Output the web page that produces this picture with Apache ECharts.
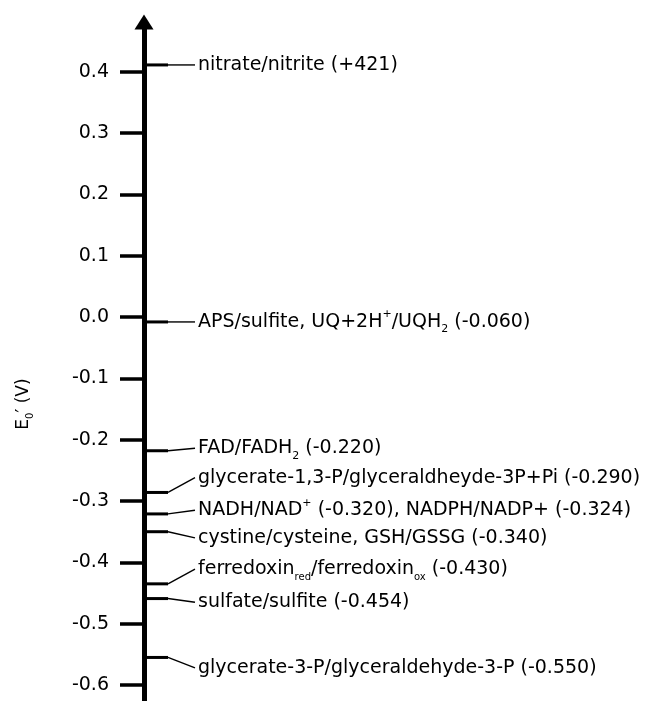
<!DOCTYPE html>
<html>
<head>
<meta charset="utf-8">
<script src="https://cdn.jsdelivr.net/npm/echarts@6/dist/echarts.min.js"></script>
<style>
html,body{margin:0;padding:0;background:#fff;}
#chart{width:651px;height:701px;}
</style>
</head>
<body>
<div id="chart"></div>
<script>
// ---- data ----
const couples = [
  'nitrate/nitrite (+421)',
  'APS/sulfite, UQ+2H{sup|+}/UQH{sub|2} (-0.060)',
  'FAD/FADH{sub|2} (-0.220)',
  'glycerate-1,3-P/glyceraldheyde-3P+Pi (-0.290)',
  'NADH/NAD{sup|+} (-0.320), NADPH/NADP+ (-0.324)',
  'cystine/cysteine, GSH/GSSG (-0.340)',
  'ferredoxin{sub2|red}/ferredoxin{sub2|ox} (-0.430)',
  'sulfate/sulfite (-0.454)',
  'glycerate-3-P/glyceraldehyde-3-P (-0.550)'
];
const potentials = [0.411, -0.008, -0.218, -0.286, -0.321, -0.350, -0.435, -0.459, -0.555];
const tickValues = [-0.6, -0.5, -0.4, -0.3, -0.2, -0.1, 0.0, 0.1, 0.2, 0.3, 0.4];
const axisTitle = 'E{s|0}\u2032 (V)';

// ---- layout (label anchor positions on the potential scale) ----
const labelAnchors = [0.411, -0.008, -0.214, -0.262, -0.315, -0.360, -0.411, -0.465, -0.572];

const FONT = 'DejaVu Sans';
const chart = echarts.init(document.getElementById('chart'), null, {renderer: 'canvas'});

const richStyles = {
  sub: {fontSize: 11, lineHeight: 8, verticalAlign: 'bottom', fontFamily: FONT, fill: '#000'},
  sub2: {fontSize: 10, lineHeight: 4, verticalAlign: 'bottom', fontFamily: FONT, fill: '#000'},
  sup: {fontSize: 11, lineHeight: 18, verticalAlign: 'top', fontFamily: FONT, fill: '#000'}
};

chart.setOption({
  animation: false,
  backgroundColor: '#fff',
  grid: {left: 144, right: 10, top: 22, bottom: 0, containLabel: false},
  xAxis: {type: 'value', min: 0, max: 1, show: false},
  yAxis: {
    type: 'value',
    min: -0.626,
    max: 0.481,
    position: 'left',
    axisLine: {
      show: true,
      onZero: false,
      symbol: ['none', 'triangle'],
      symbolSize: [19, 15],
      lineStyle: {color: '#000', width: 5}
    },
    axisTick: {show: true, length: 24, customValues: tickValues, lineStyle: {color: '#000', width: 3.5}},
    axisLabel: {
      show: true,
      customValues: tickValues,
      formatter: v => v.toFixed(1),
      color: '#000',
      fontSize: 19,
      fontFamily: FONT,
      margin: 35
    },
    splitLine: {show: false}
  },
  graphic: [{
    type: 'text',
    x: 24, y: 404,
    rotation: Math.PI / 2,
    style: {
      text: axisTitle,
      fontSize: 17,
      fontFamily: FONT,
      fill: '#000',
      align: 'center',
      verticalAlign: 'middle',
      lineHeight: 22,
      rich: {s: {fontSize: 10, lineHeight: 6, verticalAlign: 'bottom', fontFamily: FONT, fill: '#000'}}
    }
  }],
  series: [{
    type: 'custom',
    clip: false,
    data: potentials.map((v, i) => [0, v, labelAnchors[i], i]),
    renderItem: function (params, api) {
      const p = api.coord([0, api.value(1)]);
      const q = api.coord([0, api.value(2)]);
      const idx = api.value(3);
      const x0 = p[0];
      return {
        type: 'group',
        children: [
          {type: 'line', shape: {x1: x0 + 2, y1: p[1], x2: x0 + 24, y2: p[1]}, style: {stroke: '#000', lineWidth: 3}},
          {type: 'line', shape: {x1: x0 + 24, y1: p[1], x2: x0 + 51, y2: q[1]}, style: {stroke: '#000', lineWidth: 1.4}},
          {type: 'text', x: x0 + 54, y: q[1], style: {
            text: couples[idx], fontSize: 19, fontFamily: FONT, fill: '#000',
            align: 'left', verticalAlign: 'middle', lineHeight: 26, rich: richStyles
          }}
        ]
      };
    }
  }]
});
</script>
</body>
</html>
